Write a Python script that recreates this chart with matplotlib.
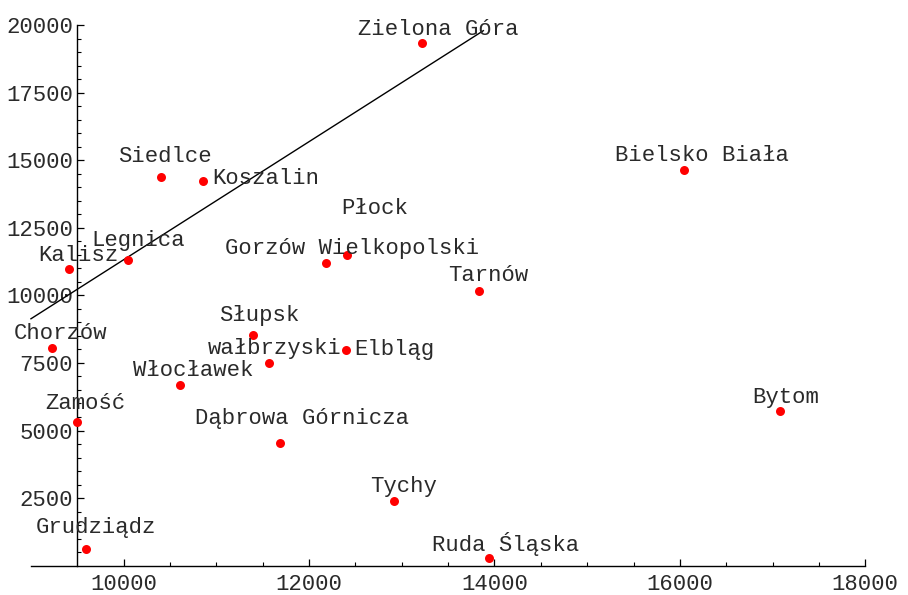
import matplotlib
matplotlib.use("Agg")
import matplotlib.pyplot as plt
from matplotlib.ticker import FixedLocator

# ---- data ----
cities = ["Zielona Góra", "Siedlce", "Koszalin", "Kalisz", "Legnica",
          "Gorzów Wielkopolski", "Płock", "Tarnów", "Bielsko Biała", "Chorzów",
          "Słupsk", "wałbrzyski", "Elbląg", "Włocławek", "Zamość",
          "Dąbrowa Górnicza", "Bytom", "Tychy", "Grudziądz", "Ruda Śląska"]
x_vals = [13221, 10399, 10859, 9410, 10050,
          12182, 12409, 13833, 16044, 9227,
          11392, 11571, 12398, 10611, 9493,
          11686, 17080, 12919, 9590, 13944]
y_vals = [19323, 14389, 14230, 10963, 11319,
          11185, 11492, 10172, 14626, 8041,
          8533, 7509, 7978, 6673, 5304,
          4527, 5722, 2404, 618, 274]
fit_x = [9000, 13880]
fit_y = [9134, 19790]
x_major = [10000, 12000, 14000, 16000, 18000]
y_major = [2500, 5000, 7500, 10000, 12500, 15000, 17500, 20000]

# ---- layout (label offsets in pixels: right, down) ----
label_off = [(16, -14), (4, -20), (62, -2), (9, -14), (10, -19),
             (26, -15), (28, -47), (9, -15), (18, -15), (9, -15),
             (7, -20), (5, -14), (48, -1), (13, -15), (9, -19),
             (22, -25), (6, -14), (9, -14), (10, -21), (16, -14)]

FONT = "Liberation Mono"
TXT = "#2a2a2a"

fig = plt.figure(figsize=(9.08, 5.95), dpi=100)
ax = fig.add_axes([0, 0, 1, 1])
ax.set_xlim(8666, 18461)
ax.set_ylim(-1084, 20925)

for s in ("top", "right"):
    ax.spines[s].set_visible(False)
ax.spines["left"].set_position(("data", 9500))
ax.spines["bottom"].set_position(("data", 0))
ax.spines["left"].set_bounds(0, 20000)
ax.spines["bottom"].set_bounds(9000, 18000)
for s in ("left", "bottom"):
    ax.spines[s].set_linewidth(1.0)
    ax.spines[s].set_color("black")

x_minor = [v for v in range(10000, 18001, 500) if v not in x_major]
y_minor = [v for v in range(500, 20001, 500) if v not in y_major]
ax.xaxis.set_major_locator(FixedLocator(x_major))
ax.yaxis.set_major_locator(FixedLocator(y_major))
ax.xaxis.set_minor_locator(FixedLocator(x_minor))
ax.yaxis.set_minor_locator(FixedLocator(y_minor))
ax.tick_params(axis="both", which="major", direction="in", length=5, width=0.9,
               labelsize=16, labelcolor=TXT, color="black")
ax.tick_params(axis="both", which="minor", direction="in", length=3, width=0.8, color="black")
ax.tick_params(axis="x", which="major", pad=6)
ax.tick_params(axis="y", which="major", pad=3)
for lab in ax.get_xticklabels() + ax.get_yticklabels():
    lab.set_fontfamily(FONT)

ax.plot(fit_x, fit_y, color="black", lw=1.0, zorder=2)
ax.scatter(x_vals, y_vals, s=42, color="red", zorder=3, linewidths=0)

for name, xv, yv, (dx, dy) in zip(cities, x_vals, y_vals, label_off):
    ax.annotate(name, (xv, yv), xytext=(dx * 0.72, -dy * 0.72),
                textcoords="offset points", ha="center", va="center",
                fontsize=16, family=FONT, color=TXT, zorder=4)

fig.savefig("out.png", dpi=100)
